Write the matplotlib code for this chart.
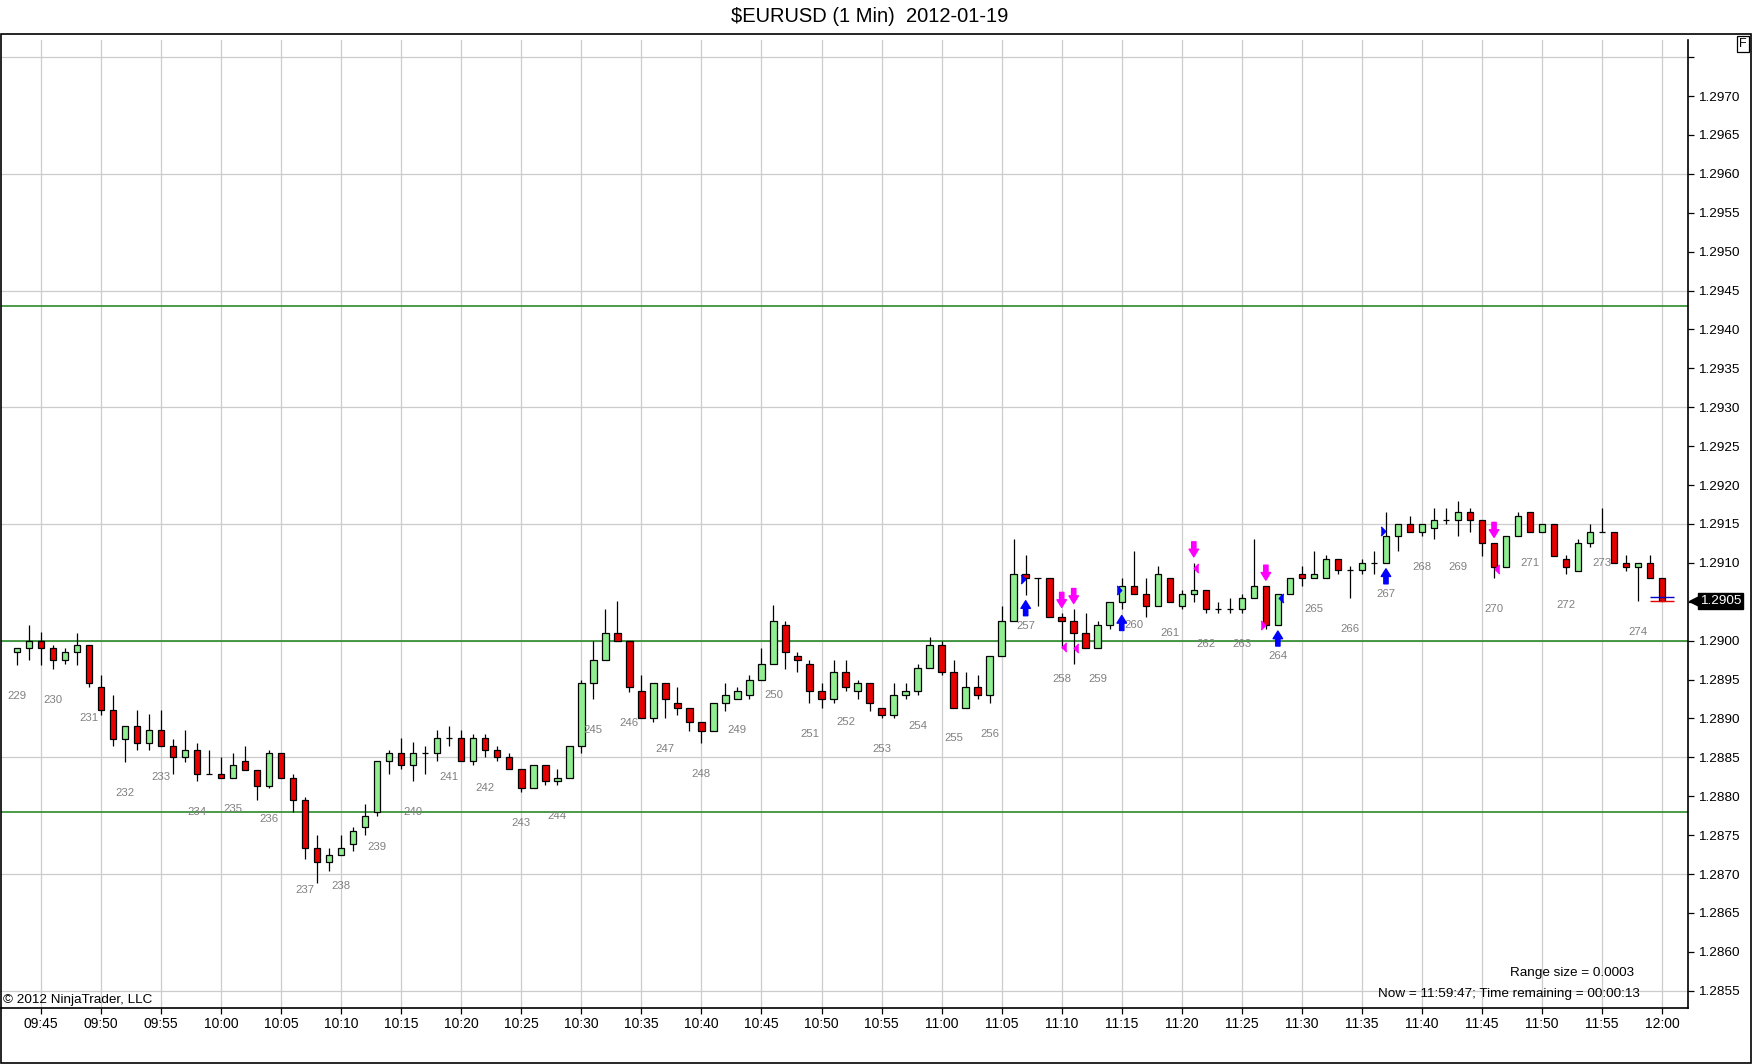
import matplotlib
matplotlib.use('Agg')
import matplotlib.pyplot as plt
from matplotlib.patches import Rectangle
from matplotlib.transforms import offset_copy, blended_transform_factory
import numpy as np
import pandas as pd

plt.rcParams['font.family'] = ['Liberation Sans', 'DejaVu Sans']

# 1-minute bars, 09:43 .. 12:00
opens = [
    1.28985, 1.28990, 1.29000, 1.28990, 1.28975, 1.28985, 1.28995, 1.28940, 1.28911, 1.28874,
    1.28890, 1.28869, 1.28885, 1.28864, 1.28850, 1.28860, 1.28829, 1.28829, 1.28824, 1.28845,
    1.28834, 1.28813, 1.28855, 1.28824, 1.28795, 1.28734, 1.28715, 1.28724, 1.28739, 1.28760,
    1.28780, 1.28845, 1.28855, 1.28840, 1.28855, 1.28855, 1.28875, 1.28875, 1.28845, 1.28875,
    1.28860, 1.28850, 1.28835, 1.28810, 1.28840, 1.28819, 1.28824, 1.28865, 1.28945, 1.28975,
    1.29010, 1.29000, 1.28935, 1.28900, 1.28945, 1.28920, 1.28914, 1.28895, 1.28884, 1.28920,
    1.28925, 1.28930, 1.28950, 1.28970, 1.29020, 1.28980, 1.28970, 1.28935, 1.28925, 1.28960,
    1.28935, 1.28945, 1.28914, 1.28905, 1.28930, 1.28935, 1.28965, 1.28995, 1.28960, 1.28914,
    1.28940, 1.28930, 1.28980, 1.29025, 1.29085, 1.29080, 1.29080, 1.29030, 1.29025, 1.29010,
    1.28990, 1.29020, 1.29050, 1.29070, 1.29060, 1.29045, 1.29080, 1.29045, 1.29060, 1.29065,
    1.29040, 1.29040, 1.29040, 1.29055, 1.29070, 1.29020, 1.29060, 1.29085, 1.29080, 1.29080,
    1.29105, 1.29091, 1.29091, 1.29100, 1.29100, 1.29135, 1.29150, 1.29140, 1.29145, 1.29155,
    1.29155, 1.29165, 1.29155, 1.29125, 1.29095, 1.29135, 1.29165, 1.29140, 1.29150, 1.29105,
    1.29090, 1.29125, 1.29140, 1.29140, 1.29100, 1.29095, 1.29100, 1.29080,
]
highs = [
    1.28990, 1.29020, 1.29011, 1.28995, 1.28990, 1.29010, 1.28995, 1.28956, 1.28930, 1.28890,
    1.28911, 1.28906, 1.28911, 1.28874, 1.28885, 1.28869, 1.28860, 1.28850, 1.28855, 1.28865,
    1.28834, 1.28860, 1.28855, 1.28829, 1.28799, 1.28750, 1.28734, 1.28750, 1.28760, 1.28790,
    1.28845, 1.28860, 1.28875, 1.28870, 1.28865, 1.28885, 1.28890, 1.28885, 1.28880, 1.28880,
    1.28865, 1.28855, 1.28835, 1.28840, 1.28840, 1.28835, 1.28865, 1.28950, 1.29000, 1.29040,
    1.29051, 1.29000, 1.28956, 1.28945, 1.28945, 1.28940, 1.28914, 1.28895, 1.28920, 1.28945,
    1.28940, 1.28956, 1.28990, 1.29046, 1.29025, 1.28985, 1.28975, 1.28945, 1.28975, 1.28975,
    1.28950, 1.28945, 1.28914, 1.28945, 1.28945, 1.28970, 1.29005, 1.29000, 1.28975, 1.28960,
    1.28956, 1.28980, 1.29045, 1.29130, 1.29110, 1.29080, 1.29080, 1.29035, 1.29040, 1.29035,
    1.29025, 1.29050, 1.29080, 1.29115, 1.29080, 1.29096, 1.29080, 1.29065, 1.29100, 1.29065,
    1.29050, 1.29055, 1.29060, 1.29130, 1.29070, 1.29060, 1.29080, 1.29096, 1.29115, 1.29110,
    1.29105, 1.29096, 1.29105, 1.29115, 1.29165, 1.29150, 1.29160, 1.29150, 1.29170, 1.29170,
    1.29180, 1.29170, 1.29155, 1.29125, 1.29135, 1.29165, 1.29165, 1.29150, 1.29150, 1.29110,
    1.29130, 1.29150, 1.29170, 1.29140, 1.29110, 1.29100, 1.29110, 1.29080,
]
lows = [
    1.28969, 1.28975, 1.28969, 1.28964, 1.28970, 1.28969, 1.28940, 1.28904, 1.28864, 1.28844,
    1.28859, 1.28859, 1.28864, 1.28829, 1.28844, 1.28819, 1.28829, 1.28824, 1.28824, 1.28834,
    1.28795, 1.28810, 1.28824, 1.28780, 1.28719, 1.28689, 1.28704, 1.28724, 1.28729, 1.28750,
    1.28774, 1.28829, 1.28835, 1.28819, 1.28829, 1.28845, 1.28864, 1.28845, 1.28840, 1.28850,
    1.28845, 1.28835, 1.28805, 1.28810, 1.28814, 1.28814, 1.28824, 1.28855, 1.28925, 1.28975,
    1.29000, 1.28934, 1.28900, 1.28895, 1.28900, 1.28905, 1.28884, 1.28869, 1.28884, 1.28910,
    1.28925, 1.28925, 1.28950, 1.28970, 1.28964, 1.28960, 1.28920, 1.28914, 1.28920, 1.28935,
    1.28925, 1.28910, 1.28900, 1.28900, 1.28925, 1.28930, 1.28965, 1.28956, 1.28914, 1.28914,
    1.28925, 1.28920, 1.28980, 1.29025, 1.29059, 1.29045, 1.29030, 1.28990, 1.28970, 1.28990,
    1.28990, 1.29015, 1.29040, 1.29060, 1.29030, 1.29045, 1.29050, 1.29040, 1.29050, 1.29035,
    1.29035, 1.29035, 1.29035, 1.29055, 1.29015, 1.29020, 1.29060, 1.29070, 1.29080, 1.29080,
    1.29086, 1.29055, 1.29086, 1.29086, 1.29100, 1.29115, 1.29140, 1.29135, 1.29130, 1.29150,
    1.29135, 1.29140, 1.29109, 1.29080, 1.29095, 1.29135, 1.29140, 1.29140, 1.29109, 1.29085,
    1.29090, 1.29120, 1.29140, 1.29100, 1.29090, 1.29051, 1.29080, 1.29051,
]
closes = [
    1.28990, 1.29000, 1.28990, 1.28975, 1.28985, 1.28995, 1.28945, 1.28911, 1.28874, 1.28890,
    1.28869, 1.28885, 1.28864, 1.28850, 1.28860, 1.28829, 1.28829, 1.28824, 1.28840, 1.28834,
    1.28813, 1.28855, 1.28824, 1.28795, 1.28734, 1.28715, 1.28724, 1.28734, 1.28755, 1.28775,
    1.28845, 1.28855, 1.28840, 1.28855, 1.28855, 1.28875, 1.28875, 1.28845, 1.28875, 1.28860,
    1.28850, 1.28835, 1.28810, 1.28840, 1.28819, 1.28824, 1.28865, 1.28945, 1.28975, 1.29010,
    1.29000, 1.28940, 1.28900, 1.28945, 1.28925, 1.28914, 1.28895, 1.28884, 1.28920, 1.28930,
    1.28935, 1.28950, 1.28970, 1.29025, 1.28985, 1.28975, 1.28935, 1.28925, 1.28960, 1.28940,
    1.28945, 1.28920, 1.28905, 1.28930, 1.28935, 1.28965, 1.28995, 1.28960, 1.28914, 1.28940,
    1.28930, 1.28980, 1.29025, 1.29085, 1.29080, 1.29080, 1.29030, 1.29025, 1.29010, 1.28990,
    1.29020, 1.29050, 1.29070, 1.29060, 1.29045, 1.29085, 1.29050, 1.29060, 1.29065, 1.29040,
    1.29040, 1.29040, 1.29055, 1.29070, 1.29020, 1.29060, 1.29080, 1.29080, 1.29085, 1.29105,
    1.29091, 1.29091, 1.29100, 1.29100, 1.29135, 1.29150, 1.29140, 1.29150, 1.29155, 1.29155,
    1.29165, 1.29155, 1.29125, 1.29095, 1.29135, 1.29160, 1.29140, 1.29150, 1.29109, 1.29095,
    1.29125, 1.29140, 1.29140, 1.29100, 1.29095, 1.29100, 1.29080, 1.29051,
]

# bar counter printed under every third bar
bar_numbers = list(range(229, 275))
bar_number_every = 3

# horizontal lines drawn on the chart
levels = [1.29430, 1.29000, 1.28780]

# signals
up_arrow_bars = [84, 92, 105, 114]
down_arrow_bars = [87, 88, 98, 104, 123]
blue_right_tri = ([84, 92, 114], [1.29079, 1.29065, 1.29141])
blue_left_tri = ([105], [1.29055])
pink_left_tri = ([87, 88, 98, 123], [1.28992, 1.28990, 1.29093, 1.29092])
pink_right_tri = ([104], [1.29020])

last_price = 1.29051
ask_price = 1.29056

W, H = 1752, 1064
fig = plt.figure(figsize=(W / 100, H / 100), dpi=100)


def fx(px):
    return px / W


def fy(py):
    return 1 - py / H


ax = fig.add_axes([fx(1), fy(1008.3), fx(1688) - fx(1), fy(40) - fy(1008.3)])

o = np.array(opens)
h = np.array(highs)
l = np.array(lows)
c = np.array(closes)
n = len(o)
x = np.arange(n)
times = pd.date_range('2012-01-19 09:43', periods=n, freq='min')

up = c > o
dn = c < o
dj = c == o
bw = 0.54

ax.vlines(x, l, h, color='black', lw=0.9, zorder=3)
ax.bar(x[up], (c - o)[up], bottom=o[up], width=bw, color='#90ee90',
       edgecolor='black', linewidth=0.9, zorder=4)
ax.bar(x[dn], (o - c)[dn], bottom=c[dn], width=bw, color='#e60000',
       edgecolor='black', linewidth=0.9, zorder=4)
ax.hlines(o[dj], x[dj] - bw / 2, x[dj] + bw / 2, color='black', lw=0.9, zorder=4)

# grid
tick_idx = [i for i, t in enumerate(times) if t.minute % 5 == 0]
ax.set_xticks(tick_idx)
ax.set_xticklabels([times[i].strftime('%H:%M') for i in tick_idx])
for i in tick_idx:
    ax.axvline(i, color='#cccccc', lw=0.9, zorder=0)
for g in np.arange(1.2855, 1.29751, 0.0015):
    ax.axhline(g, color='#cccccc', lw=0.9, zorder=0)

for lv in levels:
    ax.axhline(lv, color='#2a8a2a', lw=1.2, zorder=2)

ax.set_xlim(-1.32, 139.15)
ax.set_ylim(1.285274, 1.297720)

yt = np.arange(1.2855, 1.29751, 0.0005)
ax.set_yticks(yt)
ax.set_yticklabels(['%.4f' % v for v in yt[:-1]] + [''])
ax.yaxis.tick_right()
ax.tick_params(axis='y', length=4.3, width=0.9, pad=3, labelsize=9.7, direction='out')
ax.tick_params(axis='x', length=4.3, width=0.9, pad=2, labelsize=10, direction='out')
for s in ['top', 'left']:
    ax.spines[s].set_visible(False)
for s in ['right', 'bottom']:
    ax.spines[s].set_linewidth(1.2)

# bar numbers
for k, num in enumerate(bar_numbers):
    i = k * bar_number_every
    ax.annotate(str(num), xy=(i, l[i]), xytext=(0, -22.3), textcoords='offset points',
                ha='center', va='center', fontsize=8.2, color='#808080', zorder=5)

# arrows
arrow_style = 'simple,head_length=0.5,head_width=0.62,tail_width=0.28'
below = offset_copy(ax.transData, fig=fig, y=-6, units='dots')
above = offset_copy(ax.transData, fig=fig, y=6, units='dots')
for i in up_arrow_bars:
    ax.annotate('', xy=(i, l[i]), xycoords=below, xytext=(0, -10.8), textcoords='offset points',
                arrowprops=dict(arrowstyle=arrow_style, color='#0000ff', shrinkA=0, shrinkB=0,
                                mutation_scale=11), zorder=6)
for i in down_arrow_bars:
    ax.annotate('', xy=(i, h[i]), xycoords=above, xytext=(0, 10.8), textcoords='offset points',
                arrowprops=dict(arrowstyle=arrow_style, color='#ff00ff', shrinkA=0, shrinkB=0,
                                mutation_scale=11), zorder=6)

tri_r = [(-0.5, 1), (0.5, 0), (-0.5, -1)]
tri_l = [(0.5, 1), (-0.5, 0), (0.5, -1)]
ax.plot(np.array(blue_right_tri[0]) - 0.25, blue_right_tri[1], ls='none', marker=tri_r,
        ms=6.5, color='#0000ff', zorder=6)
ax.plot(np.array(blue_left_tri[0]) + 0.22, blue_left_tri[1], ls='none', marker=tri_l,
        ms=6.5, color='#0000ff', zorder=6)
ax.plot(np.array(pink_left_tri[0]) + 0.22, pink_left_tri[1], ls='none', marker=tri_l,
        ms=6.5, color='#ff00ff', zorder=6)
ax.plot(np.array(pink_right_tri[0]) - 0.22, pink_right_tri[1], ls='none', marker=tri_r,
        ms=6.5, color='#ff00ff', zorder=6)

# last bar bid/ask lines
ax.hlines([ask_price], n - 2, n, color='#0000cc', lw=1.0, zorder=5)
ax.hlines([last_price], n - 2, n, color='#e60000', lw=1.0, zorder=5)

# last price marker on the price axis
tr = blended_transform_factory(ax.transAxes, ax.transData)
ax.plot([1.0], [last_price], marker='<', ms=11, color='black', clip_on=False,
        transform=offset_copy(tr, fig=fig, x=8.5, units='dots'), zorder=7)
ax.text(1.0, last_price, '%.4f' % round(last_price, 4), color='white', ha='left', va='center',
        fontsize=9.7, clip_on=False, transform=offset_copy(tr, fig=fig, x=12, units='dots'),
        bbox=dict(boxstyle='square,pad=0.12', fc='black', ec='black'), zorder=7)

# texts
fig.text(fx(870), fy(16.7), '$EURUSD (1 Min)  2012-01-19', ha='center', va='center', fontsize=14.5)
fig.text(fx(3), fy(1000), '\u00a9 2012 NinjaTrader, LLC', ha='left', va='center', fontsize=9.7)
fig.text(fx(1634), fy(973.3), 'Range size = 0.0003', ha='right', va='center', fontsize=9.7)
fig.text(fx(1639.5), fy(994), 'Now = 11:59:47; Time remaining = 00:00:13', ha='right',
         va='center', fontsize=9.7)
fig.text(fx(1743), fy(44), 'F', ha='center', va='center', fontsize=9,
         bbox=dict(boxstyle='square,pad=0.15', fc='white', ec='black', lw=0.9))

# outer frame
fig.add_artist(Rectangle((fx(0.6), fy(1063.4)), fx(1751.2) - fx(0.6), fy(34.3) - fy(1063.4),
                         transform=fig.transFigure, fill=False, ec='black', lw=1.2))

fig.savefig('out.png', dpi=100)
